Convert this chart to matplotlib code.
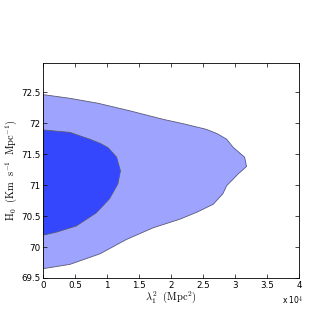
import numpy as np
import matplotlib.pyplot as plt

plt.rcParams['mathtext.fontset'] = 'cm'

# outer (light) confidence region, x in units of 1e4 Mpc^2
outer_x = [0, 0.42, 0.86, 1.35, 1.88, 2.19, 2.55, 2.72, 2.87, 2.97, 3.15, 3.18, 3.05,
           2.87, 2.81, 2.66, 2.40, 2.14, 1.72, 1.30, 0.89, 0.42, 0]
outer_y = [72.46, 72.40, 72.32, 72.20, 72.06, 71.99, 71.90, 71.83, 71.74, 71.61, 71.45, 71.30, 71.18,
           70.99, 70.86, 70.69, 70.56, 70.45, 70.31, 70.12, 69.89, 69.72, 69.65]

# inner (dark) confidence region
inner_x = [0, 0.42, 0.73, 0.90, 1.02, 1.15, 1.21, 1.17, 1.04, 0.83, 0.52, 0.21, 0]
inner_y = [71.89, 71.85, 71.74, 71.67, 71.60, 71.45, 71.23, 71.02, 70.78, 70.55, 70.34, 70.24, 70.19]

xticks = [0, 0.5, 1, 1.5, 2, 2.5, 3, 3.5, 4]
xticklabels = ['0', '0.5', '1', '1.5', '2', '2.5', '3', '3.5', '4']
yticks = [69.5, 70, 70.5, 71, 71.5, 72, 72.5]
yticklabels = ['69.5', '70', '70.5', '71', '71.5', '72', '72.5']

fig = plt.figure(figsize=(3.32, 3.14), dpi=100)
ax = fig.add_axes([43 / 332, 1 - 278 / 314, 256 / 332, 215 / 314])

ax.fill(outer_x, outer_y, facecolor='#9ea3fd', edgecolor='#5a5a6a', linewidth=0.6)
ax.fill(inner_x, inner_y, facecolor='#3447fd', edgecolor='#5a5a6a', linewidth=0.6)

ax.set_xlim(0, 4)
ax.set_ylim(69.5, 72.97)
ax.set_xticks(xticks)
ax.set_xticklabels(xticklabels)
ax.set_yticks(yticks)
ax.set_yticklabels(yticklabels)
ax.tick_params(direction='in', top=True, right=True, labelsize=6.3, length=3, width=0.5, pad=2)
for s in ax.spines.values():
    s.set_linewidth(0.6)

ax.set_xlabel(r'$\lambda_1^2\ \ (\mathrm{Mpc}^2)$', fontsize=7.5, labelpad=0)
ax.set_ylabel(r'$\mathrm{H}_0\ \ (\mathrm{Km\ \ s}^{-1}\ \ \mathrm{Mpc}^{-1})$', fontsize=7.5, labelpad=1)
fig.text(282 / 332, 1 - 301 / 314, r'x 10$^4$', fontsize=5.5, va='center')

fig.savefig('out.png', dpi=100)
